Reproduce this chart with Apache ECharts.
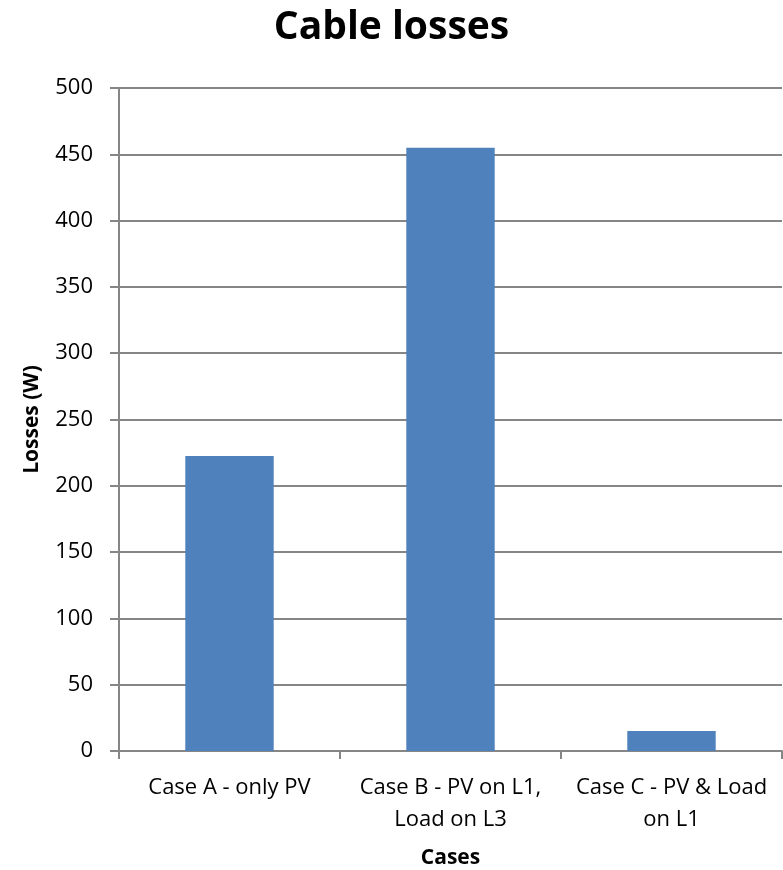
<!DOCTYPE html>
<html>
<head>
<meta charset="utf-8">
<script src="https://cdn.jsdelivr.net/npm/echarts@6/dist/echarts.min.js"></script>
<style>
html,body{margin:0;padding:0;background:#fff;}
#chart{width:783px;height:870px;}
</style>
</head>
<body>
<div id="chart"></div>
<script>
const categories = ["Case A - only PV", "Case B - PV on L1,\nLoad on L3", "Case C - PV & Load\non L1"];
const losses = [222.5, 455, 15];
const yTicks = [0, 50, 100, 150, 200, 250, 300, 350, 400, 450, 500];

const chart = echarts.init(document.getElementById('chart'), null, {renderer: 'canvas'});
const axisColor = '#868686';
const font = '"Open Sans", "Liberation Sans", sans-serif';
chart.setOption({
  animation: false,
  backgroundColor: '#ffffff',
  title: {
    text: 'Cable losses',
    left: 'center',
    top: 3,
    textStyle: {fontFamily: font, fontWeight: 'bold', fontSize: 39, color: '#000'}
  },
  grid: {left: 119, right: 1, top: 88, bottom: 119, containLabel: false, outerBoundsMode: 'none'},
  xAxis: {
    type: 'category',
    data: categories,
    name: 'Cases',
    nameLocation: 'middle',
    nameGap: 97,
    nameTextStyle: {fontFamily: font, fontWeight: 'bold', fontSize: 21, color: '#000'},
    axisLine: {show: true, lineStyle: {color: axisColor, width: 2}},
    axisTick: {show: true, alignWithLabel: false, length: 8, lineStyle: {color: axisColor, width: 2}},
    axisLabel: {fontFamily: font, fontSize: 22, color: '#000', margin: 21, lineHeight: 32, interval: 0},
    splitLine: {show: false}
  },
  yAxis: {
    type: 'value',
    min: yTicks[0],
    max: yTicks[yTicks.length - 1],
    interval: 50,
    name: 'Losses (W)',
    nameLocation: 'middle',
    nameGap: 76,
    nameRotate: 90,
    nameTextStyle: {fontFamily: font, fontWeight: 'bold', fontSize: 21, color: '#000'},
    axisLine: {show: true, lineStyle: {color: axisColor, width: 2}},
    axisTick: {show: true, length: 9, lineStyle: {color: axisColor, width: 2}},
    axisLabel: {fontFamily: font, fontSize: 22, color: '#000', margin: 26},
    splitLine: {show: true, lineStyle: {color: axisColor, width: 2}}
  },
  series: [{
    type: 'bar',
    data: losses,
    barCategoryGap: '60%',
    itemStyle: {color: '#4F81BD'}
  }]
});
</script>
</body>
</html>
